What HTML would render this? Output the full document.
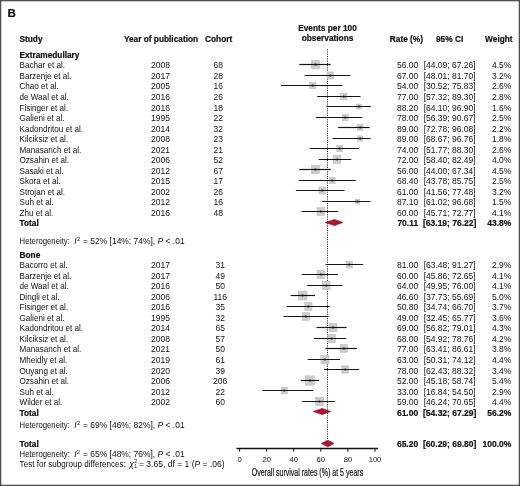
<!DOCTYPE html>
<html><head><meta charset="utf-8"><style>
html,body{margin:0;padding:0;background:#fff;}
body{width:520px;height:486px;overflow:hidden;position:relative;}
svg{position:absolute;left:0;top:0;display:block;}
text{font-family:"Liberation Sans",sans-serif;fill:#111;}
svg{will-change:transform;}
.b{stroke:#000;stroke-width:0.18px;}
</style></head><body>
<svg width="520" height="486" viewBox="0 0 520 486">
<rect x="0.65" y="0.65" width="518.7" height="484.7" fill="#fff" stroke="#4f4f4f" stroke-width="1.3"/>
<line x1="327.5" y1="49.3" x2="327.5" y2="439" stroke="#111" stroke-width="1" stroke-dasharray="1 1.26"/>
<rect x="311.38" y="60.26" width="8.08" height="8.48" fill="#cdcdcd" stroke="#b8b8b8" stroke-width="0.5"/>
<line x1="299.30" y1="64.50" x2="330.67" y2="64.50" stroke="#151515" stroke-width="1.2"/>
<circle cx="315.42" cy="64.50" r="1.1" fill="#111"/>
<rect x="326.94" y="71.95" width="6.77" height="7.10" fill="#cdcdcd" stroke="#b8b8b8" stroke-width="0.5"/>
<line x1="304.61" y1="75.50" x2="350.22" y2="75.50" stroke="#151515" stroke-width="1.2"/>
<circle cx="330.32" cy="75.50" r="1.1" fill="#111"/>
<rect x="309.68" y="82.31" width="6.07" height="6.37" fill="#cdcdcd" stroke="#b8b8b8" stroke-width="0.5"/>
<line x1="280.92" y1="85.50" x2="342.27" y2="85.50" stroke="#151515" stroke-width="1.2"/>
<circle cx="312.72" cy="85.50" r="1.1" fill="#111"/>
<rect x="340.70" y="93.19" width="6.31" height="6.63" fill="#cdcdcd" stroke="#b8b8b8" stroke-width="0.5"/>
<line x1="317.21" y1="96.50" x2="360.51" y2="96.50" stroke="#151515" stroke-width="1.2"/>
<circle cx="343.86" cy="96.50" r="1.1" fill="#111"/>
<rect x="356.67" y="104.03" width="4.70" height="4.93" fill="#cdcdcd" stroke="#b8b8b8" stroke-width="0.5"/>
<line x1="326.39" y1="106.50" x2="370.80" y2="106.50" stroke="#151515" stroke-width="1.2"/>
<circle cx="359.02" cy="106.50" r="1.1" fill="#111"/>
<rect x="342.24" y="114.38" width="5.95" height="6.24" fill="#cdcdcd" stroke="#b8b8b8" stroke-width="0.5"/>
<line x1="315.95" y1="117.50" x2="362.37" y2="117.50" stroke="#151515" stroke-width="1.2"/>
<circle cx="345.21" cy="117.50" r="1.1" fill="#111"/>
<rect x="357.33" y="124.58" width="5.56" height="5.84" fill="#cdcdcd" stroke="#b8b8b8" stroke-width="0.5"/>
<line x1="338.14" y1="127.50" x2="369.69" y2="127.50" stroke="#151515" stroke-width="1.2"/>
<circle cx="360.11" cy="127.50" r="1.1" fill="#111"/>
<rect x="357.61" y="135.88" width="5.00" height="5.25" fill="#cdcdcd" stroke="#b8b8b8" stroke-width="0.5"/>
<line x1="332.58" y1="138.50" x2="370.61" y2="138.50" stroke="#151515" stroke-width="1.2"/>
<circle cx="360.11" cy="138.50" r="1.1" fill="#111"/>
<rect x="336.76" y="145.31" width="6.07" height="6.37" fill="#cdcdcd" stroke="#b8b8b8" stroke-width="0.5"/>
<line x1="309.70" y1="148.50" x2="359.16" y2="148.50" stroke="#151515" stroke-width="1.2"/>
<circle cx="339.80" cy="148.50" r="1.1" fill="#111"/>
<rect x="333.29" y="155.51" width="7.60" height="7.98" fill="#cdcdcd" stroke="#b8b8b8" stroke-width="0.5"/>
<line x1="318.67" y1="159.50" x2="351.29" y2="159.50" stroke="#151515" stroke-width="1.2"/>
<circle cx="337.09" cy="159.50" r="1.1" fill="#111"/>
<rect x="311.38" y="165.26" width="8.08" height="8.48" fill="#cdcdcd" stroke="#b8b8b8" stroke-width="0.5"/>
<line x1="299.18" y1="169.50" x2="330.78" y2="169.50" stroke="#151515" stroke-width="1.2"/>
<circle cx="315.42" cy="169.50" r="1.1" fill="#111"/>
<rect x="329.24" y="177.38" width="5.95" height="6.24" fill="#cdcdcd" stroke="#b8b8b8" stroke-width="0.5"/>
<line x1="298.88" y1="180.50" x2="355.71" y2="180.50" stroke="#151515" stroke-width="1.2"/>
<circle cx="332.21" cy="180.50" r="1.1" fill="#111"/>
<rect x="318.81" y="186.95" width="6.77" height="7.10" fill="#cdcdcd" stroke="#b8b8b8" stroke-width="0.5"/>
<line x1="295.87" y1="190.50" x2="344.51" y2="190.50" stroke="#151515" stroke-width="1.2"/>
<circle cx="322.19" cy="190.50" r="1.1" fill="#111"/>
<rect x="355.26" y="199.12" width="4.54" height="4.76" fill="#cdcdcd" stroke="#b8b8b8" stroke-width="0.5"/>
<line x1="322.22" y1="201.50" x2="370.50" y2="201.50" stroke="#151515" stroke-width="1.2"/>
<circle cx="357.53" cy="201.50" r="1.1" fill="#111"/>
<rect x="316.99" y="207.46" width="7.70" height="8.08" fill="#cdcdcd" stroke="#b8b8b8" stroke-width="0.5"/>
<line x1="301.49" y1="211.50" x2="338.13" y2="211.50" stroke="#151515" stroke-width="1.2"/>
<circle cx="320.84" cy="211.50" r="1.1" fill="#111"/>
<rect x="346.06" y="261.13" width="6.43" height="6.75" fill="#cdcdcd" stroke="#b8b8b8" stroke-width="0.5"/>
<line x1="325.55" y1="264.50" x2="363.18" y2="264.50" stroke="#151515" stroke-width="1.2"/>
<circle cx="349.27" cy="264.50" r="1.1" fill="#111"/>
<rect x="316.99" y="270.46" width="7.70" height="8.08" fill="#cdcdcd" stroke="#b8b8b8" stroke-width="0.5"/>
<line x1="301.69" y1="274.50" x2="337.97" y2="274.50" stroke="#151515" stroke-width="1.2"/>
<circle cx="320.84" cy="274.50" r="1.1" fill="#111"/>
<rect x="322.41" y="281.46" width="7.70" height="8.08" fill="#cdcdcd" stroke="#b8b8b8" stroke-width="0.5"/>
<line x1="307.23" y1="285.50" x2="342.50" y2="285.50" stroke="#151515" stroke-width="1.2"/>
<circle cx="326.26" cy="285.50" r="1.1" fill="#111"/>
<rect x="298.43" y="291.02" width="8.53" height="8.96" fill="#cdcdcd" stroke="#b8b8b8" stroke-width="0.5"/>
<line x1="290.69" y1="295.50" x2="315.00" y2="295.50" stroke="#151515" stroke-width="1.2"/>
<circle cx="302.70" cy="295.50" r="1.1" fill="#111"/>
<rect x="304.73" y="302.67" width="7.30" height="7.66" fill="#cdcdcd" stroke="#b8b8b8" stroke-width="0.5"/>
<line x1="286.64" y1="306.50" x2="329.91" y2="306.50" stroke="#151515" stroke-width="1.2"/>
<circle cx="308.38" cy="306.50" r="1.1" fill="#111"/>
<rect x="302.35" y="312.72" width="7.19" height="7.55" fill="#cdcdcd" stroke="#b8b8b8" stroke-width="0.5"/>
<line x1="283.54" y1="316.50" x2="328.65" y2="316.50" stroke="#151515" stroke-width="1.2"/>
<circle cx="305.95" cy="316.50" r="1.1" fill="#111"/>
<rect x="329.08" y="323.36" width="7.89" height="8.29" fill="#cdcdcd" stroke="#b8b8b8" stroke-width="0.5"/>
<line x1="316.53" y1="327.50" x2="346.58" y2="327.50" stroke="#151515" stroke-width="1.2"/>
<circle cx="333.03" cy="327.50" r="1.1" fill="#111"/>
<rect x="327.77" y="334.41" width="7.80" height="8.18" fill="#cdcdcd" stroke="#b8b8b8" stroke-width="0.5"/>
<line x1="313.96" y1="338.50" x2="346.24" y2="338.50" stroke="#151515" stroke-width="1.2"/>
<circle cx="331.67" cy="338.50" r="1.1" fill="#111"/>
<rect x="340.16" y="344.62" width="7.40" height="7.77" fill="#cdcdcd" stroke="#b8b8b8" stroke-width="0.5"/>
<line x1="325.46" y1="348.50" x2="356.87" y2="348.50" stroke="#151515" stroke-width="1.2"/>
<circle cx="343.86" cy="348.50" r="1.1" fill="#111"/>
<rect x="320.91" y="355.31" width="7.99" height="8.38" fill="#cdcdcd" stroke="#b8b8b8" stroke-width="0.5"/>
<line x1="307.72" y1="359.50" x2="339.96" y2="359.50" stroke="#151515" stroke-width="1.2"/>
<circle cx="324.90" cy="359.50" r="1.1" fill="#111"/>
<rect x="341.72" y="365.83" width="6.98" height="7.33" fill="#cdcdcd" stroke="#b8b8b8" stroke-width="0.5"/>
<line x1="324.13" y1="369.50" x2="359.19" y2="369.50" stroke="#151515" stroke-width="1.2"/>
<circle cx="345.21" cy="369.50" r="1.1" fill="#111"/>
<rect x="305.57" y="375.84" width="8.88" height="9.32" fill="#cdcdcd" stroke="#b8b8b8" stroke-width="0.5"/>
<line x1="300.77" y1="380.50" x2="319.13" y2="380.50" stroke="#151515" stroke-width="1.2"/>
<circle cx="310.01" cy="380.50" r="1.1" fill="#111"/>
<rect x="281.07" y="387.13" width="6.43" height="6.75" fill="#cdcdcd" stroke="#b8b8b8" stroke-width="0.5"/>
<line x1="262.40" y1="390.50" x2="313.39" y2="390.50" stroke="#151515" stroke-width="1.2"/>
<circle cx="284.28" cy="390.50" r="1.1" fill="#111"/>
<rect x="315.49" y="397.31" width="7.99" height="8.38" fill="#cdcdcd" stroke="#b8b8b8" stroke-width="0.5"/>
<line x1="302.21" y1="401.50" x2="335.26" y2="401.50" stroke="#151515" stroke-width="1.2"/>
<circle cx="319.49" cy="401.50" r="1.1" fill="#111"/>
<polygon points="325.16,222.50 334.53,219.40 342.80,222.50 334.53,225.60" fill="#b3122c" stroke="#7d0a1c" stroke-width="0.6"/>
<polygon points="313.15,411.50 322.19,408.40 330.71,411.50 322.19,414.60" fill="#b3122c" stroke="#7d0a1c" stroke-width="0.6"/>
<polygon points="321.23,443.50 327.88,440.20 334.11,443.50 327.88,446.80" fill="#b3122c" stroke="#7d0a1c" stroke-width="0.6"/>
<line x1="236.5" y1="448.5" x2="378" y2="448.5" stroke="#111" stroke-width="1.3"/>
<line x1="239.60" y1="448.5" x2="239.60" y2="451.7" stroke="#111" stroke-width="1"/>
<line x1="266.68" y1="448.5" x2="266.68" y2="451.7" stroke="#111" stroke-width="1"/>
<line x1="293.76" y1="448.5" x2="293.76" y2="451.7" stroke="#111" stroke-width="1"/>
<line x1="320.84" y1="448.5" x2="320.84" y2="451.7" stroke="#111" stroke-width="1"/>
<line x1="347.92" y1="448.5" x2="347.92" y2="451.7" stroke="#111" stroke-width="1"/>
<line x1="375.00" y1="448.5" x2="375.00" y2="451.7" stroke="#111" stroke-width="1"/>
<text x="7.60" y="17.30" font-size="11.6" font-weight="bold" class="b">B</text>
<text x="19.50" y="41.60" font-size="8.3" font-weight="bold" class="b">Study</text>
<text x="123.90" y="41.60" font-size="8.3" font-weight="bold" class="b">Year of publication</text>
<text x="205.00" y="41.60" font-size="8.3" font-weight="bold" class="b">Cohort</text>
<text x="327.50" y="31.20" font-size="8.3" text-anchor="middle" font-weight="bold" class="b">Events per 100</text>
<text x="327.50" y="41.20" font-size="8.3" text-anchor="middle" font-weight="bold" class="b">observations</text>
<text x="389.80" y="41.60" font-size="8.3" font-weight="bold" class="b">Rate (%)</text>
<text x="449.60" y="41.60" font-size="8.3" text-anchor="middle" font-weight="bold" class="b">95% CI</text>
<text x="512.60" y="41.60" font-size="8.3" text-anchor="end" font-weight="bold" class="b">Weight</text>
<text x="19.50" y="58.20" font-size="8.3" font-weight="bold" class="b">Extramedullary</text>
<text x="19.50" y="257.60" font-size="8.3" font-weight="bold" class="b">Bone</text>
<text x="19.50" y="68.45" font-size="8.4" textLength="45.51" lengthAdjust="spacingAndGlyphs">Bachar et al.</text>
<text x="160.50" y="68.45" font-size="8.5" text-anchor="middle">2008</text>
<text x="218.20" y="68.45" font-size="8.5" text-anchor="middle">68</text>
<text x="418.20" y="68.45" font-size="8.5" text-anchor="end">56.00</text>
<text x="449.70" y="68.45" font-size="8.5" text-anchor="middle">[44.09; 67.26]</text>
<text x="511.40" y="68.45" font-size="8.5" text-anchor="end">4.5%</text>
<text x="19.50" y="78.97" font-size="8.4" textLength="51.82" lengthAdjust="spacingAndGlyphs">Barzenje et al.</text>
<text x="160.50" y="78.97" font-size="8.5" text-anchor="middle">2017</text>
<text x="218.20" y="78.97" font-size="8.5" text-anchor="middle">28</text>
<text x="418.20" y="78.97" font-size="8.5" text-anchor="end">67.00</text>
<text x="449.70" y="78.97" font-size="8.5" text-anchor="middle">[48.01; 81.70]</text>
<text x="511.40" y="78.97" font-size="8.5" text-anchor="end">3.2%</text>
<text x="19.50" y="89.49" font-size="8.4" textLength="39.20" lengthAdjust="spacingAndGlyphs">Chao et al.</text>
<text x="160.50" y="89.49" font-size="8.5" text-anchor="middle">2005</text>
<text x="218.20" y="89.49" font-size="8.5" text-anchor="middle">16</text>
<text x="418.20" y="89.49" font-size="8.5" text-anchor="end">54.00</text>
<text x="449.70" y="89.49" font-size="8.5" text-anchor="middle">[30.52; 75.83]</text>
<text x="511.40" y="89.49" font-size="8.5" text-anchor="end">2.6%</text>
<text x="19.50" y="100.01" font-size="8.4" textLength="49.26" lengthAdjust="spacingAndGlyphs">de Waal et al.</text>
<text x="160.50" y="100.01" font-size="8.5" text-anchor="middle">2016</text>
<text x="218.20" y="100.01" font-size="8.5" text-anchor="middle">26</text>
<text x="418.20" y="100.01" font-size="8.5" text-anchor="end">77.00</text>
<text x="449.70" y="100.01" font-size="8.5" text-anchor="middle">[57.32; 89.30]</text>
<text x="511.40" y="100.01" font-size="8.5" text-anchor="end">2.8%</text>
<text x="19.50" y="110.53" font-size="8.4" textLength="48.66" lengthAdjust="spacingAndGlyphs">Fisinger et al.</text>
<text x="160.50" y="110.53" font-size="8.5" text-anchor="middle">2016</text>
<text x="218.20" y="110.53" font-size="8.5" text-anchor="middle">18</text>
<text x="418.20" y="110.53" font-size="8.5" text-anchor="end">88.20</text>
<text x="449.70" y="110.53" font-size="8.5" text-anchor="middle">[64.10; 96.90]</text>
<text x="511.40" y="110.53" font-size="8.5" text-anchor="end">1.6%</text>
<text x="19.50" y="121.05" font-size="8.4" textLength="45.06" lengthAdjust="spacingAndGlyphs">Galieni et al.</text>
<text x="160.50" y="121.05" font-size="8.5" text-anchor="middle">1995</text>
<text x="218.20" y="121.05" font-size="8.5" text-anchor="middle">22</text>
<text x="418.20" y="121.05" font-size="8.5" text-anchor="end">78.00</text>
<text x="449.70" y="121.05" font-size="8.5" text-anchor="middle">[56.39; 90.67]</text>
<text x="511.40" y="121.05" font-size="8.5" text-anchor="end">2.5%</text>
<text x="19.50" y="131.57" font-size="8.4" textLength="63.54" lengthAdjust="spacingAndGlyphs">Kadondritou et al.</text>
<text x="160.50" y="131.57" font-size="8.5" text-anchor="middle">2014</text>
<text x="218.20" y="131.57" font-size="8.5" text-anchor="middle">32</text>
<text x="418.20" y="131.57" font-size="8.5" text-anchor="end">89.00</text>
<text x="449.70" y="131.57" font-size="8.5" text-anchor="middle">[72.78; 96.08]</text>
<text x="511.40" y="131.57" font-size="8.5" text-anchor="end">2.2%</text>
<text x="19.50" y="142.09" font-size="8.4" textLength="48.65" lengthAdjust="spacingAndGlyphs">Kilciksiz et al.</text>
<text x="160.50" y="142.09" font-size="8.5" text-anchor="middle">2008</text>
<text x="218.20" y="142.09" font-size="8.5" text-anchor="middle">23</text>
<text x="418.20" y="142.09" font-size="8.5" text-anchor="end">89.00</text>
<text x="449.70" y="142.09" font-size="8.5" text-anchor="middle">[68.67; 96.76]</text>
<text x="511.40" y="142.09" font-size="8.5" text-anchor="end">1.8%</text>
<text x="19.50" y="152.61" font-size="8.4" textLength="61.73" lengthAdjust="spacingAndGlyphs">Manasanch et al.</text>
<text x="160.50" y="152.61" font-size="8.5" text-anchor="middle">2021</text>
<text x="218.20" y="152.61" font-size="8.5" text-anchor="middle">21</text>
<text x="418.20" y="152.61" font-size="8.5" text-anchor="end">74.00</text>
<text x="449.70" y="152.61" font-size="8.5" text-anchor="middle">[51.77; 88.30]</text>
<text x="511.40" y="152.61" font-size="8.5" text-anchor="end">2.6%</text>
<text x="19.50" y="163.13" font-size="8.4" textLength="49.56" lengthAdjust="spacingAndGlyphs">Ozsahin et al.</text>
<text x="160.50" y="163.13" font-size="8.5" text-anchor="middle">2006</text>
<text x="218.20" y="163.13" font-size="8.5" text-anchor="middle">52</text>
<text x="418.20" y="163.13" font-size="8.5" text-anchor="end">72.00</text>
<text x="449.70" y="163.13" font-size="8.5" text-anchor="middle">[58.40; 82.49]</text>
<text x="511.40" y="163.13" font-size="8.5" text-anchor="end">4.0%</text>
<text x="19.50" y="173.65" font-size="8.4" textLength="44.16" lengthAdjust="spacingAndGlyphs">Sasaki et al.</text>
<text x="160.50" y="173.65" font-size="8.5" text-anchor="middle">2012</text>
<text x="218.20" y="173.65" font-size="8.5" text-anchor="middle">67</text>
<text x="418.20" y="173.65" font-size="8.5" text-anchor="end">56.00</text>
<text x="449.70" y="173.65" font-size="8.5" text-anchor="middle">[44.00; 67.34]</text>
<text x="511.40" y="173.65" font-size="8.5" text-anchor="end">4.5%</text>
<text x="19.50" y="184.17" font-size="8.4" textLength="41.00" lengthAdjust="spacingAndGlyphs">Skora et al.</text>
<text x="160.50" y="184.17" font-size="8.5" text-anchor="middle">2015</text>
<text x="218.20" y="184.17" font-size="8.5" text-anchor="middle">17</text>
<text x="418.20" y="184.17" font-size="8.5" text-anchor="end">68.40</text>
<text x="449.70" y="184.17" font-size="8.5" text-anchor="middle">[43.78; 85.75]</text>
<text x="511.40" y="184.17" font-size="8.5" text-anchor="end">2.5%</text>
<text x="19.50" y="194.69" font-size="8.4" textLength="45.51" lengthAdjust="spacingAndGlyphs">Strojan et al.</text>
<text x="160.50" y="194.69" font-size="8.5" text-anchor="middle">2002</text>
<text x="218.20" y="194.69" font-size="8.5" text-anchor="middle">26</text>
<text x="418.20" y="194.69" font-size="8.5" text-anchor="end">61.00</text>
<text x="449.70" y="194.69" font-size="8.5" text-anchor="middle">[41.56; 77.48]</text>
<text x="511.40" y="194.69" font-size="8.5" text-anchor="end">3.2%</text>
<text x="19.50" y="205.21" font-size="8.4" textLength="34.25" lengthAdjust="spacingAndGlyphs">Suh et al.</text>
<text x="160.50" y="205.21" font-size="8.5" text-anchor="middle">2012</text>
<text x="218.20" y="205.21" font-size="8.5" text-anchor="middle">16</text>
<text x="418.20" y="205.21" font-size="8.5" text-anchor="end">87.10</text>
<text x="449.70" y="205.21" font-size="8.5" text-anchor="middle">[61.02; 96.68]</text>
<text x="511.40" y="205.21" font-size="8.5" text-anchor="end">1.5%</text>
<text x="19.50" y="215.73" font-size="8.4" textLength="33.79" lengthAdjust="spacingAndGlyphs">Zhu et al.</text>
<text x="160.50" y="215.73" font-size="8.5" text-anchor="middle">2016</text>
<text x="218.20" y="215.73" font-size="8.5" text-anchor="middle">48</text>
<text x="418.20" y="215.73" font-size="8.5" text-anchor="end">60.00</text>
<text x="449.70" y="215.73" font-size="8.5" text-anchor="middle">[45.71; 72.77]</text>
<text x="511.40" y="215.73" font-size="8.5" text-anchor="end">4.1%</text>
<text x="19.50" y="268.33" font-size="8.4" textLength="48.21" lengthAdjust="spacingAndGlyphs">Bacorro et al.</text>
<text x="160.50" y="268.33" font-size="8.5" text-anchor="middle">2017</text>
<text x="220.20" y="268.33" font-size="8.5" text-anchor="middle">31</text>
<text x="418.20" y="268.33" font-size="8.5" text-anchor="end">81.00</text>
<text x="449.70" y="268.33" font-size="8.5" text-anchor="middle">[63.48; 91.27]</text>
<text x="511.40" y="268.33" font-size="8.5" text-anchor="end">2.9%</text>
<text x="19.50" y="278.85" font-size="8.4" textLength="51.82" lengthAdjust="spacingAndGlyphs">Barzenje et al.</text>
<text x="160.50" y="278.85" font-size="8.5" text-anchor="middle">2017</text>
<text x="220.20" y="278.85" font-size="8.5" text-anchor="middle">49</text>
<text x="418.20" y="278.85" font-size="8.5" text-anchor="end">60.00</text>
<text x="449.70" y="278.85" font-size="8.5" text-anchor="middle">[45.86; 72.65]</text>
<text x="511.40" y="278.85" font-size="8.5" text-anchor="end">4.1%</text>
<text x="19.50" y="289.37" font-size="8.4" textLength="49.26" lengthAdjust="spacingAndGlyphs">de Waal et al.</text>
<text x="160.50" y="289.37" font-size="8.5" text-anchor="middle">2016</text>
<text x="220.20" y="289.37" font-size="8.5" text-anchor="middle">50</text>
<text x="418.20" y="289.37" font-size="8.5" text-anchor="end">64.00</text>
<text x="449.70" y="289.37" font-size="8.5" text-anchor="middle">[49.95; 76.00]</text>
<text x="511.40" y="289.37" font-size="8.5" text-anchor="end">4.1%</text>
<text x="19.50" y="299.89" font-size="8.4" textLength="40.10" lengthAdjust="spacingAndGlyphs">Dingli et al.</text>
<text x="160.50" y="299.89" font-size="8.5" text-anchor="middle">2006</text>
<text x="220.20" y="299.89" font-size="8.5" text-anchor="middle">116</text>
<text x="418.20" y="299.89" font-size="8.5" text-anchor="end">46.60</text>
<text x="449.70" y="299.89" font-size="8.5" text-anchor="middle">[37.73; 55.69]</text>
<text x="511.40" y="299.89" font-size="8.5" text-anchor="end">5.0%</text>
<text x="19.50" y="310.41" font-size="8.4" textLength="48.66" lengthAdjust="spacingAndGlyphs">Fisinger et al.</text>
<text x="160.50" y="310.41" font-size="8.5" text-anchor="middle">2016</text>
<text x="220.20" y="310.41" font-size="8.5" text-anchor="middle">35</text>
<text x="418.20" y="310.41" font-size="8.5" text-anchor="end">50.80</text>
<text x="449.70" y="310.41" font-size="8.5" text-anchor="middle">[34.74; 66.70]</text>
<text x="511.40" y="310.41" font-size="8.5" text-anchor="end">3.7%</text>
<text x="19.50" y="320.93" font-size="8.4" textLength="45.06" lengthAdjust="spacingAndGlyphs">Galieni et al.</text>
<text x="160.50" y="320.93" font-size="8.5" text-anchor="middle">1995</text>
<text x="220.20" y="320.93" font-size="8.5" text-anchor="middle">32</text>
<text x="418.20" y="320.93" font-size="8.5" text-anchor="end">49.00</text>
<text x="449.70" y="320.93" font-size="8.5" text-anchor="middle">[32.45; 65.77]</text>
<text x="511.40" y="320.93" font-size="8.5" text-anchor="end">3.6%</text>
<text x="19.50" y="331.45" font-size="8.4" textLength="63.54" lengthAdjust="spacingAndGlyphs">Kadondritou et al.</text>
<text x="160.50" y="331.45" font-size="8.5" text-anchor="middle">2014</text>
<text x="220.20" y="331.45" font-size="8.5" text-anchor="middle">65</text>
<text x="418.20" y="331.45" font-size="8.5" text-anchor="end">69.00</text>
<text x="449.70" y="331.45" font-size="8.5" text-anchor="middle">[56.82; 79.01]</text>
<text x="511.40" y="331.45" font-size="8.5" text-anchor="end">4.3%</text>
<text x="19.50" y="341.97" font-size="8.4" textLength="48.65" lengthAdjust="spacingAndGlyphs">Kilciksiz et al.</text>
<text x="160.50" y="341.97" font-size="8.5" text-anchor="middle">2008</text>
<text x="220.20" y="341.97" font-size="8.5" text-anchor="middle">57</text>
<text x="418.20" y="341.97" font-size="8.5" text-anchor="end">68.00</text>
<text x="449.70" y="341.97" font-size="8.5" text-anchor="middle">[54.92; 78.76]</text>
<text x="511.40" y="341.97" font-size="8.5" text-anchor="end">4.2%</text>
<text x="19.50" y="352.49" font-size="8.4" textLength="61.73" lengthAdjust="spacingAndGlyphs">Manasanch et al.</text>
<text x="160.50" y="352.49" font-size="8.5" text-anchor="middle">2021</text>
<text x="220.20" y="352.49" font-size="8.5" text-anchor="middle">50</text>
<text x="418.20" y="352.49" font-size="8.5" text-anchor="end">77.00</text>
<text x="449.70" y="352.49" font-size="8.5" text-anchor="middle">[63.41; 86.61]</text>
<text x="511.40" y="352.49" font-size="8.5" text-anchor="end">3.8%</text>
<text x="19.50" y="363.01" font-size="8.4" textLength="47.76" lengthAdjust="spacingAndGlyphs">Mheidly et al.</text>
<text x="160.50" y="363.01" font-size="8.5" text-anchor="middle">2019</text>
<text x="220.20" y="363.01" font-size="8.5" text-anchor="middle">61</text>
<text x="418.20" y="363.01" font-size="8.5" text-anchor="end">63.00</text>
<text x="449.70" y="363.01" font-size="8.5" text-anchor="middle">[50.31; 74.12]</text>
<text x="511.40" y="363.01" font-size="8.5" text-anchor="end">4.4%</text>
<text x="19.50" y="373.53" font-size="8.4" textLength="48.22" lengthAdjust="spacingAndGlyphs">Ouyang et al.</text>
<text x="160.50" y="373.53" font-size="8.5" text-anchor="middle">2020</text>
<text x="220.20" y="373.53" font-size="8.5" text-anchor="middle">39</text>
<text x="418.20" y="373.53" font-size="8.5" text-anchor="end">78.00</text>
<text x="449.70" y="373.53" font-size="8.5" text-anchor="middle">[62.43; 88.32]</text>
<text x="511.40" y="373.53" font-size="8.5" text-anchor="end">3.4%</text>
<text x="19.50" y="384.05" font-size="8.4" textLength="49.56" lengthAdjust="spacingAndGlyphs">Ozsahin et al.</text>
<text x="160.50" y="384.05" font-size="8.5" text-anchor="middle">2006</text>
<text x="220.20" y="384.05" font-size="8.5" text-anchor="middle">206</text>
<text x="418.20" y="384.05" font-size="8.5" text-anchor="end">52.00</text>
<text x="449.70" y="384.05" font-size="8.5" text-anchor="middle">[45.18; 58.74]</text>
<text x="511.40" y="384.05" font-size="8.5" text-anchor="end">5.4%</text>
<text x="19.50" y="394.57" font-size="8.4" textLength="34.25" lengthAdjust="spacingAndGlyphs">Suh et al.</text>
<text x="160.50" y="394.57" font-size="8.5" text-anchor="middle">2012</text>
<text x="220.20" y="394.57" font-size="8.5" text-anchor="middle">22</text>
<text x="418.20" y="394.57" font-size="8.5" text-anchor="end">33.00</text>
<text x="449.70" y="394.57" font-size="8.5" text-anchor="middle">[16.84; 54.50]</text>
<text x="511.40" y="394.57" font-size="8.5" text-anchor="end">2.9%</text>
<text x="19.50" y="405.09" font-size="8.4" textLength="42.79" lengthAdjust="spacingAndGlyphs">Wilder et al.</text>
<text x="160.50" y="405.09" font-size="8.5" text-anchor="middle">2002</text>
<text x="220.20" y="405.09" font-size="8.5" text-anchor="middle">60</text>
<text x="418.20" y="405.09" font-size="8.5" text-anchor="end">59.00</text>
<text x="449.70" y="405.09" font-size="8.5" text-anchor="middle">[46.24; 70.65]</text>
<text x="511.40" y="405.09" font-size="8.5" text-anchor="end">4.4%</text>
<text x="19.50" y="226.25" font-size="8.3" font-weight="bold" class="b">Total</text>
<text x="418.20" y="226.25" font-size="8.5" text-anchor="end" font-weight="bold" class="b">70.11</text>
<text x="449.70" y="226.25" font-size="8.5" text-anchor="middle" font-weight="bold" class="b">[63.19; 76.22]</text>
<text x="511.40" y="226.25" font-size="8.5" text-anchor="end" font-weight="bold" class="b">43.8%</text>
<text x="19.50" y="415.61" font-size="8.3" font-weight="bold" class="b">Total</text>
<text x="418.20" y="415.61" font-size="8.5" text-anchor="end" font-weight="bold" class="b">61.00</text>
<text x="449.70" y="415.61" font-size="8.5" text-anchor="middle" font-weight="bold" class="b">[54.32; 67.29]</text>
<text x="511.40" y="415.61" font-size="8.5" text-anchor="end" font-weight="bold" class="b">56.2%</text>
<text x="19.50" y="446.80" font-size="8.3" font-weight="bold" class="b">Total</text>
<text x="418.20" y="446.80" font-size="8.5" text-anchor="end" font-weight="bold" class="b">65.20</text>
<text x="449.70" y="446.80" font-size="8.5" text-anchor="middle" font-weight="bold" class="b">[60.29; 69.80]</text>
<text x="511.40" y="446.80" font-size="8.5" text-anchor="end" font-weight="bold" class="b">100.0%</text>
<text x="19.6" y="243.6" font-size="8.4" textLength="50.2" lengthAdjust="spacingAndGlyphs">Heterogeneity:</text>
<text x="74.3" y="243.6" font-size="8.4"><tspan font-style="italic">I</tspan><tspan dx="0.3" dy="-2.9" font-size="5.3">2</tspan></text>
<text x="83.0" y="243.6" font-size="8.8" textLength="101.6" lengthAdjust="spacingAndGlyphs">= 52% [14%; 74%], <tspan font-style="italic">P</tspan> &lt; .01</text>
<text x="19.6" y="428.2" font-size="8.4" textLength="50.2" lengthAdjust="spacingAndGlyphs">Heterogeneity:</text>
<text x="74.3" y="428.2" font-size="8.4"><tspan font-style="italic">I</tspan><tspan dx="0.3" dy="-2.9" font-size="5.3">2</tspan></text>
<text x="83.0" y="428.2" font-size="8.8" textLength="101.6" lengthAdjust="spacingAndGlyphs">= 69% [46%; 82%], <tspan font-style="italic">P</tspan> &lt; .01</text>
<text x="19.6" y="456.9" font-size="8.4" textLength="50.2" lengthAdjust="spacingAndGlyphs">Heterogeneity:</text>
<text x="74.3" y="456.9" font-size="8.4"><tspan font-style="italic">I</tspan><tspan dx="0.3" dy="-2.9" font-size="5.3">2</tspan></text>
<text x="83.0" y="456.9" font-size="8.8" textLength="101.6" lengthAdjust="spacingAndGlyphs">= 65% [48%; 76%], <tspan font-style="italic">P</tspan> &lt; .01</text>
<text x="19.6" y="466.9" font-size="8.4" textLength="106.3" lengthAdjust="spacingAndGlyphs">Test for subgroup differences:</text>
<text x="129.3" y="466.9" font-size="8.4" font-style="italic">&#967;</text>
<text x="134.2" y="463.0" font-size="5.3">2</text>
<text x="134.2" y="468.4" font-size="5.3">1</text>
<text x="139.0" y="466.9" font-size="8.8" textLength="85.6" lengthAdjust="spacingAndGlyphs">= 3.65, df = 1 (<tspan font-style="italic">P</tspan> = .06)</text>
<text x="239.60" y="462.4" font-size="7.6" text-anchor="middle">0</text>
<text x="266.68" y="462.4" font-size="7.6" text-anchor="middle">20</text>
<text x="293.76" y="462.4" font-size="7.6" text-anchor="middle">40</text>
<text x="320.84" y="462.4" font-size="7.6" text-anchor="middle">60</text>
<text x="347.92" y="462.4" font-size="7.6" text-anchor="middle">80</text>
<text x="375.00" y="462.4" font-size="7.6" text-anchor="middle">100</text>
<text x="251.7" y="476" font-size="10.6" textLength="111.5" lengthAdjust="spacingAndGlyphs" stroke="#111" stroke-width="0.2">Overall survival rates (%) at 5 years</text>
</svg>
</body></html>
